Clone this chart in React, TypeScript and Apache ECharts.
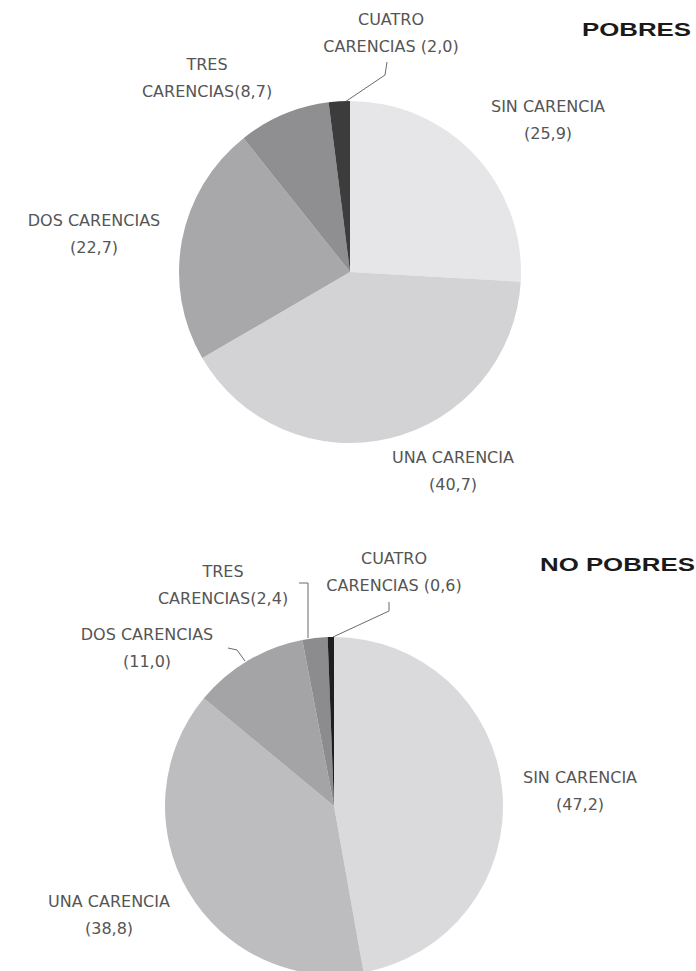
import React, { useEffect, useRef } from "react";
import * as echarts from "echarts";

const categories = ["SIN CARENCIA", "UNA CARENCIA", "DOS CARENCIAS", "TRES CARENCIAS", "CUATRO CARENCIAS"];
const pobresValues = [25.9, 40.7, 22.7, 8.7, 2.0];
const noPobresValues = [47.2, 38.8, 11.0, 2.4, 0.6];
const groupTitles = ["POBRES", "NO POBRES"];

const pobresColors = ["#e6e6e8", "#d3d3d5", "#a8a8aa", "#8f8f91", "#3c3c3c"];
const noPobresColors = ["#dadadc", "#bdbdbf", "#a4a4a6", "#8c8c8e", "#1e1e1e"];

// label layout (positions only)
const pobresLabelPos = [[548, 120], [453, 471], [94, 234], [207, 78], [391, 33]];
const noPobresLabelPos = [[580, 791], [109, 915], [147, 648], [223, 585], [394, 572]];
const pobresLines: Record<number, number[][]> = {
  4: [[345, 102], [385, 75], [387, 62]],
};
const noPobresLines: Record<number, number[][]> = {
  2: [[245, 661], [237, 650], [228, 648]],
  3: [[308, 638], [308, 583], [299, 583]],
  4: [[333, 637], [389, 611], [389, 602]],
};

const fmt = (v: number) => v.toFixed(1).replace(".", ",");

function labelText(index: number, name: string, v: number) {
  const words = name.split(" ");
  if (index === 3) return `${words[0]}\n${words.slice(1).join(" ")}(${fmt(v)})`;
  if (index === 4) return `${words[0]}\n${words.slice(1).join(" ")} (${fmt(v)})`;
  return `${name}\n(${fmt(v)})`;
}

function makeSeries(
  values: number[],
  colors: string[],
  center: [number, number],
  radius: number,
  labelPos: number[][],
  lines: Record<number, number[][]>
) {
  return {
    type: "pie",
    center,
    radius,
    startAngle: 90,
    clockwise: true,
    avoidLabelOverlap: false,
    silent: true,
    itemStyle: { borderWidth: 0 },
    label: {
      show: true,
      position: "outside",
      color: "#555555",
      fontFamily: "DejaVu Sans",
      fontSize: 16,
      lineHeight: 27,
      formatter: (p: any) => labelText(p.dataIndex, p.name, p.value),
    },
    labelLine: {
      lineStyle: { color: "#6a6a6a", width: 1 },
    },
    labelLayout: (p: any) => {
      const i = p.dataIndex;
      const out: any = {
        x: labelPos[i][0],
        y: labelPos[i][1],
        align: "center",
        verticalAlign: "middle",
      };
      if (lines[i]) out.labelLinePoints = lines[i];
      return out;
    },
    data: categories.map((name, i) => ({
      name,
      value: values[i],
      itemStyle: { color: colors[i] },
      labelLine: { show: !!lines[i] },
    })),
  };
}

export default function App() {
  const ref = useRef<HTMLDivElement>(null);
  useEffect(() => {
    if (!ref.current) return;
    const chart = echarts.init(ref.current, undefined, { renderer: "svg" });
    chart.setOption({
      animation: false,
      backgroundColor: "#ffffff",
      graphic: [
        {
          type: "text",
          x: 582,
          y: 29,
          scaleX: 1.36,
          style: {
            text: groupTitles[0],
            font: "bold 19px 'Liberation Sans', Arial, sans-serif",
            fill: "#1a1a1a",
            textAlign: "left",
            textVerticalAlign: "middle",
          },
        },
        {
          type: "text",
          x: 540,
          y: 564,
          scaleX: 1.36,
          style: {
            text: groupTitles[1],
            font: "bold 19px 'Liberation Sans', Arial, sans-serif",
            fill: "#1a1a1a",
            textAlign: "left",
            textVerticalAlign: "middle",
          },
        },
      ],
      series: [
        makeSeries(pobresValues, pobresColors, [350, 272], 171, pobresLabelPos, pobresLines),
        makeSeries(noPobresValues, noPobresColors, [334, 806], 169, noPobresLabelPos, noPobresLines),
      ],
    });
    return () => chart.dispose();
  }, []);
  return (
    <div
      ref={ref}
      style={{ position: "fixed", left: 0, top: 0, width: 696, height: 971 }}
    />
  );
}
